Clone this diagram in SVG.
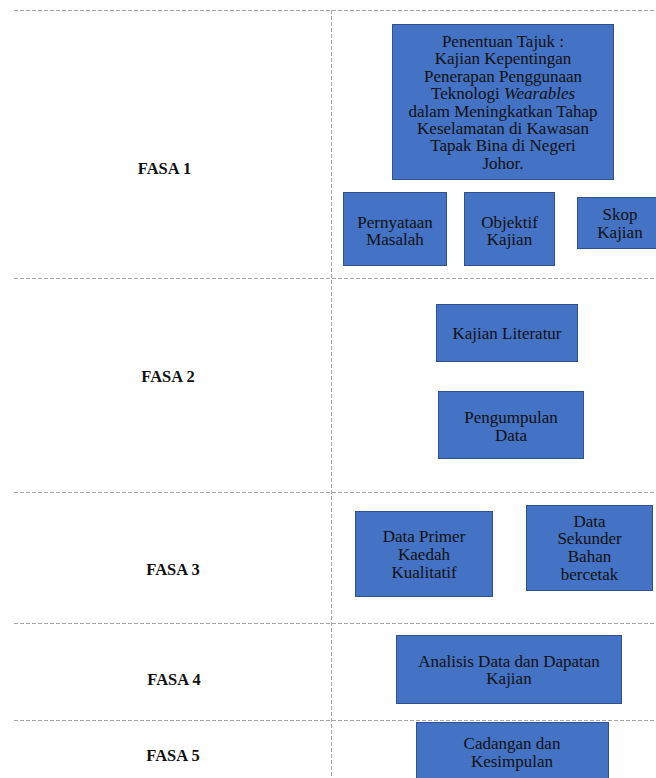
<svg xmlns="http://www.w3.org/2000/svg" width="656" height="778" viewBox="0 0 656 778">
<style>
.grid{stroke:#a6a6a6;stroke-width:1;stroke-dasharray:4 2;fill:none}
.box{fill:#4472C4;stroke:#2F528F;stroke-width:1}
.t{font-family:"Liberation Serif","Times New Roman",serif;font-size:17px;fill:#111;text-anchor:middle}
.fasa{font-family:"Liberation Serif","Times New Roman",serif;font-size:16.5px;font-weight:bold;fill:#111;text-anchor:middle}
</style>
<rect width="656" height="778" fill="#fff"/>
<g id="grid">
<line class="grid" x1="14" y1="10.5" x2="656" y2="10.5"/>
<line class="grid" x1="14" y1="278.5" x2="656" y2="278.5"/>
<line class="grid" x1="14" y1="492.5" x2="656" y2="492.5"/>
<line class="grid" x1="14" y1="623.5" x2="656" y2="623.5"/>
<line class="grid" x1="14" y1="720.5" x2="656" y2="720.5"/>
<line class="grid" x1="331.5" y1="10" x2="331.5" y2="778"/>
</g>
<g id="labels">
<text class="fasa" x="164.5" y="174">FASA 1</text>
<text class="fasa" x="168" y="382">FASA 2</text>
<text class="fasa" x="173" y="575">FASA 3</text>
<text class="fasa" x="174" y="685">FASA 4</text>
<text class="fasa" x="173" y="761">FASA 5</text>
</g>
<g id="connectors"></g>
<g id="tajuk">
<rect class="box" x="392.5" y="24.5" width="221" height="155"/>
<text class="t" x="503" y="47">Penentuan Tajuk :</text>
<text class="t" x="503" y="64.4">Kajian Kepentingan</text>
<text class="t" x="503" y="81.8">Penerapan Penggunaan</text>
<text class="t" x="503" y="99.2">Teknologi <tspan font-style="italic">Wearables</tspan></text>
<text class="t" x="503" y="116.6">dalam Meningkatkan Tahap</text>
<text class="t" x="503" y="134">Keselamatan di Kawasan</text>
<text class="t" x="503" y="151.4">Tapak Bina di Negeri</text>
<text class="t" x="503" y="168.8">Johor.</text>
</g>
<g id="pernyataan">
<rect class="box" x="343.5" y="192.5" width="103" height="73"/>
<text class="t" x="395" y="227.5">Pernyataan</text>
<text class="t" x="395" y="245">Masalah</text>
</g>
<g id="objektif">
<rect class="box" x="464.5" y="192.5" width="90" height="73"/>
<text class="t" x="509.5" y="227.5">Objektif</text>
<text class="t" x="509.5" y="245">Kajian</text>
</g>
<g id="skop">
<rect class="box" x="577.5" y="197.5" width="82" height="51"/>
<text class="t" x="620" y="220">Skop</text>
<text class="t" x="620" y="238">Kajian</text>
</g>
<g id="literatur">
<rect class="box" x="436.5" y="304.5" width="141" height="57"/>
<text class="t" x="507" y="339">Kajian Literatur</text>
</g>
<g id="pengumpulan">
<rect class="box" x="438.5" y="391.5" width="145" height="67"/>
<text class="t" x="511" y="423">Pengumpulan</text>
<text class="t" x="511" y="441">Data</text>
</g>
<g id="primer">
<rect class="box" x="355.5" y="511.5" width="137" height="85"/>
<text class="t" x="424" y="542">Data Primer</text>
<text class="t" x="424" y="560">Kaedah</text>
<text class="t" x="424" y="578">Kualitatif</text>
</g>
<g id="sekunder">
<rect class="box" x="526.5" y="505.5" width="126" height="85"/>
<text class="t" x="589.5" y="526.5">Data</text>
<text class="t" x="589.5" y="544.2">Sekunder</text>
<text class="t" x="589.5" y="561.9">Bahan</text>
<text class="t" x="589.5" y="579.6">bercetak</text>
</g>
<g id="analisis">
<rect class="box" x="396.5" y="635.5" width="225" height="68"/>
<text class="t" x="509" y="666.5">Analisis Data dan Dapatan</text>
<text class="t" x="509" y="684">Kajian</text>
</g>
<g id="cadangan">
<rect class="box" x="416.5" y="722.5" width="192" height="70"/>
<text class="t" x="512" y="749">Cadangan dan</text>
<text class="t" x="512" y="767">Kesimpulan</text>
</g>
</svg>
